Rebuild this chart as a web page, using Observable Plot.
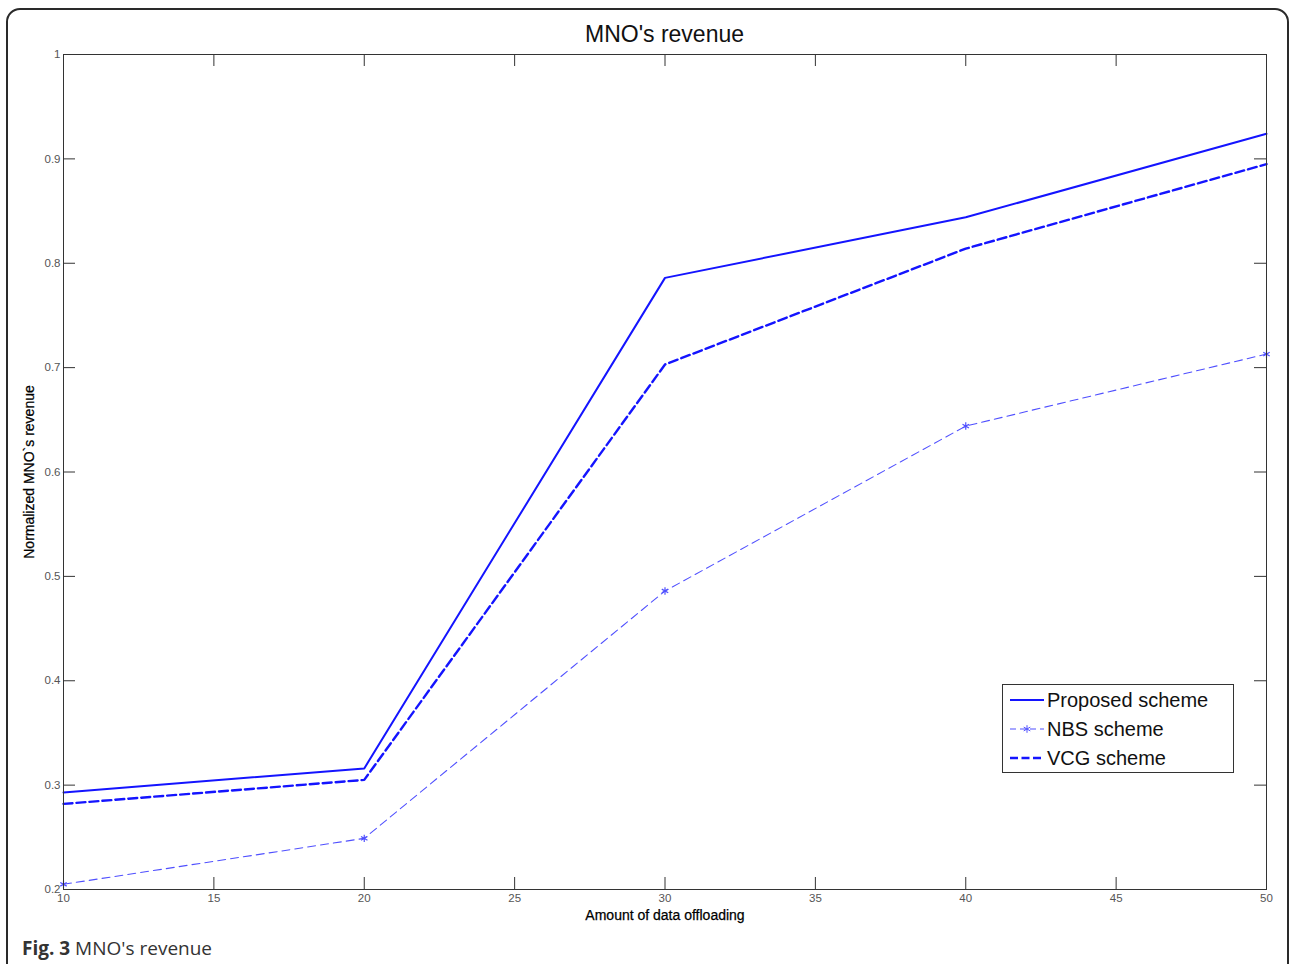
<!DOCTYPE html>
<html><head><meta charset="utf-8">
<script src="https://cdn.jsdelivr.net/npm/d3@7"></script>
<script src="https://cdn.jsdelivr.net/npm/@observablehq/plot@0.6"></script>
<style>
body{margin:0;background:#fff;width:1289px;height:964px;overflow:hidden;position:relative;font-family:"Liberation Sans",Arial,sans-serif}
#frame{position:absolute;left:6px;top:8px;width:1279px;height:990px;border:2px solid #2a2a2a;border-radius:14px;pointer-events:none}
#title{position:absolute;left:63px;width:1203px;top:20px;text-align:center;font-size:23px;color:#111;line-height:28px}
#chart{position:absolute;left:0;top:44px}
#caption{position:absolute;left:22px;top:935px;font-family:"Open Sans",sans-serif;font-size:19px;color:#333;line-height:26px}
#legend{position:absolute;left:1002px;top:684px;width:232px;height:89px;border:1px solid #333;background:#fff;box-sizing:border-box}
#chart g[aria-label="x-axis label"] text,#chart g[aria-label="y-axis label"] text{font-size:14px;fill:#000;stroke:#000;stroke-width:0.25px}
#chart g[aria-label="x-axis tick label"] text,#chart g[aria-label="y-axis tick label"] text{fill:#555}
</style>
</head><body>
<div id="frame"></div>
<div id="title">MNO's revenue</div>
<div id="chart"></div>
<div id="legend"></div>
<div id="caption"><b>Fig. 3</b> MNO's revenue</div>
<script>
const xValues = [10, 20, 30, 40, 50];
const proposed = [0.293, 0.316, 0.786, 0.844, 0.924];
const nbs = [0.205, 0.249, 0.486, 0.644, 0.713];
const vcg = [0.282, 0.305, 0.703, 0.814, 0.895];
const seriesNames = ["Proposed scheme", "NBS scheme", "VCG scheme"];
const xTicks = [10, 15, 20, 25, 30, 35, 40, 45, 50];
const yTicks = [0.2, 0.3, 0.4, 0.5, 0.6, 0.7, 0.8, 0.9, 1];
const yTickLabels = ["0.2", "0.3", "0.4", "0.5", "0.6", "0.7", "0.8", "0.9", "1"];

const styles = [
  {stroke: "#1414ff", strokeWidth: 2, dash: null, marker: false},
  {stroke: "#5050ff", strokeWidth: 1.1, dash: "8,5", marker: true},
  {stroke: "#1414ff", strokeWidth: 2.4, dash: "9,4", marker: false}
];
const values = [proposed, nbs, vcg];
const rows = values.map((arr) => xValues.map((x, i) => ({x, y: arr[i]})));

const W = 1289, H = 886, mL = 63, mR = 23, mT = 10, mB = 41;
const pw = W - mL - mR, ph = H - mT - mB;

const lineMarks = [];
rows.forEach((r, k) => {
  const s = styles[k];
  lineMarks.push(Plot.line(r, {x: "x", y: "y", stroke: s.stroke, strokeWidth: s.strokeWidth, strokeDasharray: s.dash}));
  if (s.marker) lineMarks.push(Plot.dot(r, {x: "x", y: "y", symbol: "asterisk", r: 3.5, stroke: s.stroke, strokeWidth: 1.2}));
});

const chart = Plot.plot({
  width: W, height: H,
  marginLeft: mL, marginRight: mR, marginTop: mT, marginBottom: mB,
  x: {domain: [10, 50]},
  y: {domain: [0.2, 1]},
  style: {fontFamily: "Liberation Sans, Arial, sans-serif", fontSize: "11.5px", color: "#333", background: "transparent"},
  marks: [
    Plot.tickY(yTicks, {y: d => d, stroke: "#333", insetRight: pw - 12}),
    Plot.tickY(yTicks, {y: d => d, stroke: "#333", insetLeft: pw - 12}),
    Plot.tickX(xTicks, {x: d => d, stroke: "#333", insetTop: ph - 12}),
    Plot.tickX(xTicks, {x: d => d, stroke: "#333", insetBottom: ph - 12}),
    Plot.axisX({ticks: xTicks, tickSize: 0, tickPadding: 4, tickFormat: d => String(d), label: "Amount of data offloading", labelAnchor: "center", labelOffset: 30, labelArrow: "none"}),
    Plot.axisY({ticks: yTicks, tickSize: 0, tickPadding: 3, tickFormat: d => yTickLabels[yTicks.indexOf(d)], label: "Normalized MNO`s revenue", labelAnchor: "center", labelOffset: 39, labelArrow: "none"}),
    ...lineMarks,
    Plot.frame({stroke: "#333"})
  ]
});
document.getElementById("chart").appendChild(chart);

// legend
const leg = d3.select("#legend").append("svg").attr("width", 230).attr("height", 87)
  .style("font-family", "Liberation Sans, Arial, sans-serif");
seriesNames.forEach((name, k) => {
  const s = styles[k];
  const cy = 15 + k * 29;
  leg.append("line").attr("x1", 7).attr("x2", 41).attr("y1", cy).attr("y2", cy)
    .attr("stroke", s.stroke).attr("stroke-width", s.strokeWidth)
    .attr("stroke-dasharray", s.dash ? (k === 1 ? "6,4" : "8,3.5") : null);
  if (s.marker) {
    leg.append("path").attr("d", d3.symbol(d3.symbolAsterisk, 40)()).attr("transform", `translate(24,${cy})`)
      .attr("stroke", s.stroke).attr("fill", "none");
  }
  leg.append("text").attr("x", 44).attr("y", cy).attr("dy", "0.35em").attr("font-size", 20).attr("fill", "#111").text(name);
});
</script>
</body></html>
